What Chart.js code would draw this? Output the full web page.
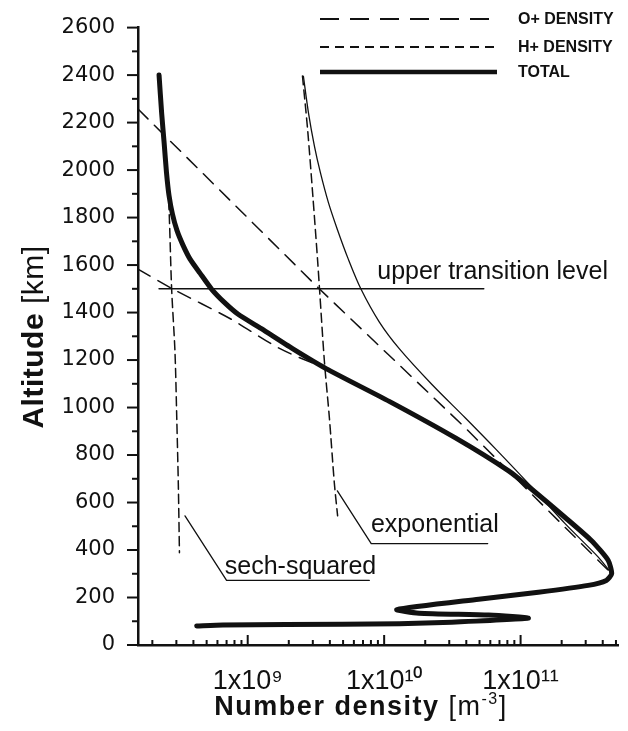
<!DOCTYPE html>
<html>
<head>
<meta charset="utf-8">
<script src="https://cdn.jsdelivr.net/npm/chart.js@4.4.1/dist/chart.umd.min.js"></script>
<style>
  html, body { margin: 0; background: #fff; }
  #wrap { width: 628px; height: 731px; }
</style>
</head>
<body>
<div id="wrap"><canvas id="chart" width="628" height="731"></canvas></div>
<script>
/* Topside ion density profiles: sech-squared vs exponential */

const INK = "#111";

// axis ranges / ticks
const X_MIN = 1.57e8;
const X_MAX = 5.2e11;
const X_TICK_VALUES = [
  2e8, 3e8, 4e8, 5e8, 6e8, 7e8, 8e8, 9e8,
  1e9, 2e9, 3e9, 4e9, 5e9, 6e9, 7e9, 8e9, 9e9,
  1e10, 2e10, 3e10, 4e10, 5e10, 6e10, 7e10, 8e10, 9e10,
  1e11, 2e11, 3e11, 4e11, 5e11,
];
const X_LABEL_VALUES = [1e9, 1e10, 1e11];
const X_LABEL_TEXT = ["1x10\u2079", "1x10\u00b9\u2070", "1x10\u00b9\u00b9"];

// total density, sech-squared model (thick)
const TOTAL_SECH_ALT = [2400, 2240, 2115, 1989, 1893, 1814, 1746, 1683, 1625, 1566,
  1499, 1445, 1394, 1332, 1248, 1164, 1026, 872, 733, 657,
  537, 440, 356, 300, 272, 251, 222, 193, 149, 134,
  126, 113, 96, 90, 86, 84, 80];
const TOTAL_SECH_N = [2.24e8, 2.34e8, 2.44e8, 2.54e8, 2.65e8, 2.81e8, 3.03e8, 3.36e8, 3.78e8, 4.47e8,
  5.43e8, 6.68e8, 8.46e8, 1.26e9, 2.13e9, 3.75e9, 1.09e10, 3.33e10, 8.17e10, 1.2e11,
  2.12e11, 3.3e11, 4.39e11, 4.65e11, 4.25e11, 3.13e11, 1.35e11, 4.93e10, 1.24e10, 1.8e10,
  5.83e10, 1.14e11, 3.13e10, 1.29e10, 1.91e9, 6.58e8, 4.23e8];

// total density, exponential model (thin)
const TOTAL_EXP_ALT = [2395, 2240, 2102, 1989, 1864, 1750, 1625, 1499, 1361, 1248, 1097, 956, 825, 657, 511, 370, 300];
const TOTAL_EXP_N = [2.56e9, 2.79e9, 3.08e9, 3.41e9, 3.9e9, 4.54e9, 5.46e9, 6.76e9, 9.2e9, 1.29e10, 2.24e10, 3.94e10, 6.58e10, 1.245e11, 2.12e11, 3.71e11, 4.65e11];

// O+ density (long dash)
const OPLUS_EXP_ALT = [2257, 1499, 914, 300];
const OPLUS_EXP_N = [1.57e8, 3.36e9, 3.94e10, 4.65e11];
const OPLUS_SECH_ALT = [1583, 1498, 1375, 1249, 1164];
const OPLUS_SECH_N = [1.57e8, 2.85e8, 7.4e8, 1.71e9, 3.75e9];

// H+ density (short dash)
const HPLUS_SECH_ALT = [2400, 1918, 1499, 1235, 955, 678, 389];
const HPLUS_SECH_N = [2.25e8, 2.61e8, 2.77e8, 2.93e8, 3.02e8, 3.1e8, 3.16e8];
const HPLUS_EXP_ALT = [2396, 2169, 1893, 1612, 1499, 1193, 955, 678, 544];
const HPLUS_EXP_N = [2.52e9, 2.75e9, 3.0e9, 3.26e9, 3.36e9, 3.65e9, 3.97e9, 4.32e9, 4.56e9];

// upper transition level + label leaders
const TRANSITION_ALT = [1500, 1500];
const TRANSITION_N = [2.24e8, 5.37e10];
const EXP_LEADER_ALT = [649, 427, 427];
const EXP_LEADER_N = [4.54e9, 8.04e9, 5.74e10];
const SECH_LEADER_ALT = [544, 272, 272];
const SECH_LEADER_N = [3.47e8, 7.0e8, 7.78e9];

const NOTE_TEXT = ["upper transition level", "exponential", "sech-squared"];
const NOTE_ALT = [1542, 474, 300];
const NOTE_N = [8.9e9, 8.0e9, 6.79e8];

const LEGEND_LABELS = ["O+ DENSITY", "H+ DENSITY", "TOTAL"];

function pts(ns, alts) {
  return ns.map((n, i) => ({ x: n, y: alts[i] }));
}

function series(ns, alts, width, dash, tension) {
  return {
    data: pts(ns, alts),
    showLine: true,
    borderColor: INK,
    borderWidth: width,
    borderDash: dash || [],
    borderCapStyle: "round",
    borderJoinStyle: "round",
    tension: tension || 0,
    pointRadius: 0,
  };
}

/* ── extra drawing: tick marks, notes, titles, legend ── */
const decor = {
  id: "decor",
  afterDraw(chart) {
    const { ctx, scales: { x, y } } = chart;
    const x0 = x.left;
    const y0 = y.getPixelForValue(0);
    ctx.save();
    ctx.strokeStyle = INK;
    ctx.fillStyle = INK;
    ctx.lineWidth = 2;

    // x ticks point up into the plot
    x.ticks.forEach((t) => {
      const px = x.getPixelForValue(t.value);
      const len = X_LABEL_VALUES.includes(t.value) ? 10 : 5;
      ctx.beginPath();
      ctx.moveTo(px, y0);
      ctx.lineTo(px, y0 - len);
      ctx.stroke();
    });
    // y ticks point out to the left
    y.ticks.forEach((t) => {
      const py = y.getPixelForValue(t.value);
      const len = t.value % 200 === 0 ? 11 : 6;
      ctx.beginPath();
      ctx.moveTo(x0, py);
      ctx.lineTo(x0 - len, py);
      ctx.stroke();
    });

    // in-plot notes
    ctx.font = "25px 'Liberation Sans', Arial, sans-serif";
    ctx.textBaseline = "alphabetic";
    ctx.textAlign = "left";
    NOTE_TEXT.forEach((s, i) => {
      ctx.fillText(s, x.getPixelForValue(NOTE_N[i]), y.getPixelForValue(NOTE_ALT[i]));
    });

    // legend
    const lx0 = 320, lx1 = 497, tx = 518;
    const rows = [
      { y: 19, w: 2, dash: [19, 11] },
      { y: 47, w: 2, dash: [9, 6] },
      { y: 72, w: 4.5, dash: [] },
    ];
    ctx.font = "bold 16px 'Liberation Sans', Arial, sans-serif";
    ctx.textBaseline = "middle";
    rows.forEach((r, i) => {
      ctx.lineWidth = r.w;
      ctx.setLineDash(r.dash);
      ctx.lineCap = "butt";
      ctx.beginPath();
      ctx.moveTo(lx0, r.y);
      ctx.lineTo(lx1, r.y);
      ctx.stroke();
      ctx.fillText(LEGEND_LABELS[i], tx, r.y + 1);
    });
    ctx.setLineDash([]);

    // x title: "Number density [m-3]"
    ctx.textBaseline = "alphabetic";
    const boldX = "bold 27px 'Liberation Sans', Arial, sans-serif";
    const regX = "27px 'Liberation Sans', Arial, sans-serif";
    const supX = "16px 'Liberation Sans', Arial, sans-serif";
    ctx.letterSpacing = "1.5px";
    ctx.font = boldX;
    const wA = ctx.measureText("Number density ").width;
    ctx.font = regX;
    const wB = ctx.measureText("[m").width;
    ctx.font = supX;
    const wC = ctx.measureText("-3").width;
    ctx.font = regX;
    const wD = ctx.measureText("]").width;
    let cx = 361 - (wA + wB + wC + wD) / 2;
    const by = 715;
    ctx.font = boldX; ctx.fillText("Number density ", cx, by); cx += wA;
    ctx.font = regX; ctx.fillText("[m", cx, by); cx += wB;
    ctx.font = supX; ctx.fillText("-3", cx, by - 11); cx += wC;
    ctx.font = regX; ctx.fillText("]", cx, by);

    // y title: "Altitude [km]"
    ctx.letterSpacing = "0.5px";
    ctx.translate(43, 337);
    ctx.rotate(-Math.PI / 2);
    const boldY = "bold 30px 'Liberation Sans', Arial, sans-serif";
    const regY = "30px 'Liberation Sans', Arial, sans-serif";
    ctx.font = boldY;
    const wE = ctx.measureText("Altitude ").width;
    ctx.font = regY;
    const wF = ctx.measureText("[km]").width;
    let ty = -(wE + wF) / 2;
    ctx.font = boldY; ctx.fillText("Altitude ", ty, 0); ty += wE;
    ctx.font = regY; ctx.fillText("[km]", ty, 0);
    ctx.restore();
  },
};

new Chart(document.getElementById("chart"), {
  type: "scatter",
  data: {
    datasets: [
      series(TOTAL_SECH_N, TOTAL_SECH_ALT, 5, null, 0.2),
      series(TOTAL_EXP_N, TOTAL_EXP_ALT, 1.3, null, 0.3),
      series(OPLUS_EXP_N, OPLUS_EXP_ALT, 1.5, [14, 9], 0),
      series(OPLUS_SECH_N, OPLUS_SECH_ALT, 1.5, [14, 9], 0.3),
      series(HPLUS_SECH_N, HPLUS_SECH_ALT, 1.5, [9, 5], 0.3),
      series(HPLUS_EXP_N, HPLUS_EXP_ALT, 1.5, [9, 5], 0.3),
      series(TRANSITION_N, TRANSITION_ALT, 1.5, null, 0),
      series(EXP_LEADER_N, EXP_LEADER_ALT, 1.3, null, 0),
      series(SECH_LEADER_N, SECH_LEADER_ALT, 1.3, null, 0),
    ],
  },
  options: {
    responsive: false,
    animation: false,
    layout: { padding: { top: 24, right: 8, left: 0, bottom: 0 } },
    plugins: { legend: { display: false }, tooltip: { enabled: false } },
    scales: {
      x: {
        type: "logarithmic",
        min: X_MIN,
        max: X_MAX,
        afterBuildTicks: (s) => { s.ticks = X_TICK_VALUES.map((v) => ({ value: v })); },
        afterFit: (s) => { s.height = 86; },
        grid: { display: false },
        border: { color: INK, width: 2.5 },
        ticks: {
          autoSkip: false,
          maxRotation: 0,
          padding: 12,
          color: INK,
          font: { family: "'Liberation Sans', Arial, sans-serif", size: 27 },
          callback: (v) => {
            const i = X_LABEL_VALUES.indexOf(v);
            return i >= 0 ? X_LABEL_TEXT[i] : "";
          },
        },
      },
      y: {
        min: 0,
        max: 2600,
        afterFit: (s) => { s.width = 138; },
        grid: { display: false },
        border: { color: INK, width: 2.5 },
        ticks: {
          stepSize: 100,
          autoSkip: false,
          padding: 15,
          color: INK,
          font: { family: "'DejaVu Sans', sans-serif", size: 21 },
          callback: (v) => (v % 200 === 0 ? String(v) : ""),
        },
      },
    },
  },
  plugins: [decor],
});
</script>
</body>
</html>
